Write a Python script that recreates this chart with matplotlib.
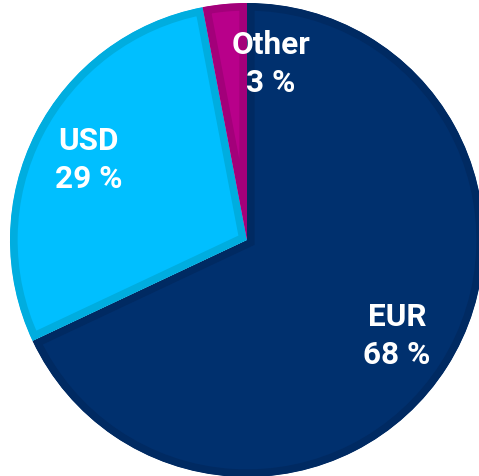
import matplotlib.pyplot as plt

# data
labels = ['EUR', 'USD', 'Other']
shares = [68, 29, 3]
fills = ['#00306e', '#00bfff', '#b8008a']
edges = ['#002a62', '#00addf', '#a3007a']

fig = plt.figure(figsize=(4.79, 4.77), dpi=100)
ax = fig.add_axes([0, 0, 1, 1])

wedges, texts = ax.pie(
    shares, colors=fills, startangle=90, counterclock=False,
    labels=[f'{l}\n{v} %' for l, v in zip(labels, shares)],
    labeldistance=0.75,
    textprops=dict(color='white', fontsize=22.7, fontweight='bold',
                   family='Roboto', ha='center', va='center', linespacing=1.32),
)

ax.set_xlim(-247 / 237, 232 / 237)
ax.set_ylim(-236 / 237, 241 / 237)
ax.set_aspect('equal')
ax.axis('off')

# inner border: wide edge clipped to the wedge outline
# (pie makes wedges with clip_on=False, so switch it back on)
for w, ec in zip(wedges, edges):
    w.set_edgecolor(ec)
    w.set_linewidth(11)
    w.set_clip_on(True)
    w.set_clip_path(w)

# nudge the small slice label to the right like the original
x, y = texts[2].get_position()
texts[2].set_position((x + 0.17, y))

plt.savefig('out.png', dpi=100)
